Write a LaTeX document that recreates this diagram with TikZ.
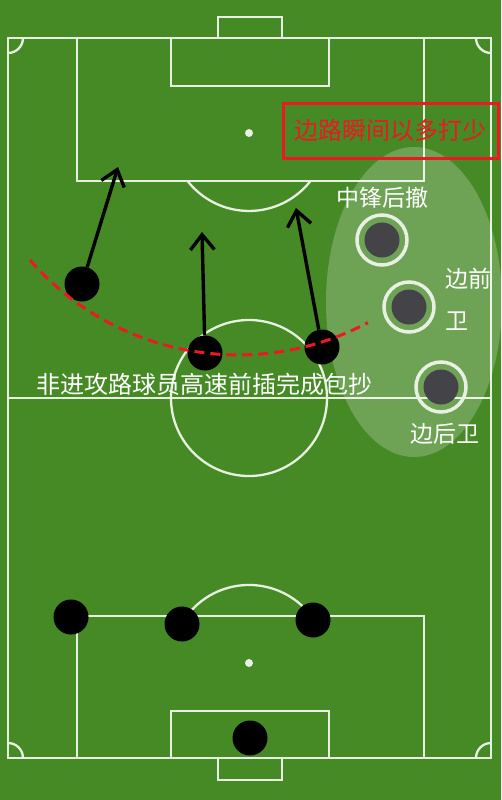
\documentclass[tikz,border=0pt]{standalone}
\usepackage{fontspec}
\setmainfont{Noto Sans CJK SC}
\usetikzlibrary{arrows.meta}

\definecolor{grass}{RGB}{70,138,38}
\definecolor{chalk}{RGB}{232,240,226}
\definecolor{markred}{RGB}{236,24,34}
\definecolor{foe}{RGB}{68,68,72}

\tikzset{
  pitch/.style={draw=chalk, line width=2.3pt},
  mate/.style={circle, fill=black, minimum size=35pt, inner sep=0pt},
  foering/.style={circle, draw=chalk, line width=3.5pt, minimum size=50pt, inner sep=0pt,
    path picture={\fill[foe] (path picture bounding box.center) circle (17.5);}},
  label/.style={text=white, font=\fontsize{23}{27}\selectfont, inner sep=0pt},
  run/.style={line width=3.4pt, -{Straight Barb[length=15pt,width=24pt,line width=3.4pt]}},
}

\begin{document}
\begin{tikzpicture}[x=1pt,y=-1pt]
            % Background grass
            \fill[grass] (0,0) rectangle (501,800);
            \useasboundingbox (0,0) rectangle (501,800);

            % Outer lines and halfway line
            \draw[pitch] (8,38) rectangle (491,758);
            \draw[pitch] (8,398) -- (491,398);
            \draw[pitch] (249,398) circle (78);

            % Top end
            \draw[pitch] (218,38) -- (218,17) -- (282,17) -- (282,38);
            \draw[pitch] (171,38) rectangle (329,86);
            \draw[pitch] (77,38) rectangle (424,181);
            \draw[pitch] (310.5,181) arc[start angle=38, end angle=142, radius=78];
            \fill[chalk] (249,133) circle (4);

            % Bottom end
            \draw[pitch] (218,758) -- (218,780) -- (282,780) -- (282,758);
            \draw[pitch] (171,711) rectangle (329,758);
            \draw[pitch] (77,616) rectangle (424,758);
            \draw[pitch] (186.7,616) arc[start angle=217, end angle=323, radius=78];
            \fill[chalk] (249,663) circle (4);

            % Corner arcs
            \draw[pitch] (23,38) arc[start angle=0, end angle=90, radius=15];
            \draw[pitch] (476,38) arc[start angle=180, end angle=90, radius=15];
            \draw[pitch] (23,758) arc[start angle=0, end angle=-90, radius=15];
            \draw[pitch] (476,758) arc[start angle=180, end angle=270, radius=15];

            % Shaded flank
            \fill[white, opacity=0.22] (414,302) ellipse [x radius=88, y radius=155];

            % Opponents on the flank
            \node[foering] (striker) at (382,240) {};
            \node[foering] (winger) at (409,307) {};
            \node[foering] (fullback) at (441,387) {};

            % Own players
            \node[mate] (left) at (82,284) {};
            \node[mate] (mid) at (205,353) {};
            \node[mate] (right) at (322,347) {};
            \node[mate] (backL) at (71,617) {};
            \node[mate] (backC) at (182,624) {};
            \node[mate] (backR) at (313,620) {};
            \node[mate] (keeper) at (250,738) {};

            % Run targets
            \coordinate (leftEnd) at (118,167);
            \coordinate (midEnd) at (202,232);
            \coordinate (rightEnd) at (296,208);

            % Forward runs
            \draw[run] (left) -- (leftEnd);
            \draw[run] (mid) -- (midEnd);
            \draw[run] (right) -- (rightEnd);

            % Overlap line
            \draw[markred, line width=3pt, dash pattern=on 10pt off 6pt]
              (30,260) arc[start angle=139, end angle=62, radius=276];

            % Labels
            \node[draw=markred, line width=3pt, minimum width=215, minimum height=55,
              text=markred, font=\fontsize{24}{28}\selectfont] (title) at (390.5,130.5) {边路瞬间以多打少};
            \node[label] (strikerText) at (382,198) {中锋后撤};
            \node[label, align=left, anchor=west, font=\fontsize{23}{42}\selectfont] (wingerText) at (445,299) {边前\\卫};
            \node[label] (fullbackText) at (445,434) {边后卫};
            \node[label, font=\fontsize{24}{28}\selectfont] (runText) at (204,384) {非进攻路球员高速前插完成包抄};
\end{tikzpicture}
\end{document}
